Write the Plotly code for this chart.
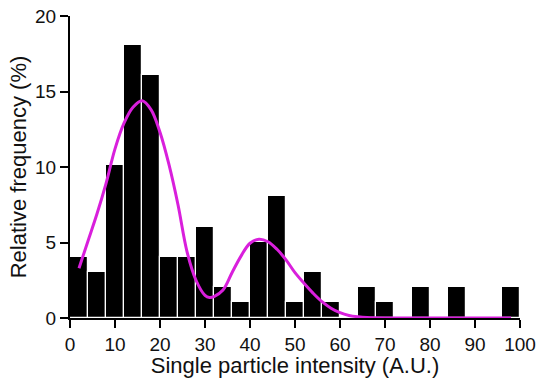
import plotly.graph_objects as go

# Histogram bins (A.U.) and relative frequencies (%)
bin_centers = [2, 6, 10, 14, 18, 22, 26, 30, 34, 38, 42, 46, 50,
               54, 58, 62, 66, 70, 74, 78, 82, 86, 90, 94, 98]
rel_freq = [4.05, 3.05, 10.1, 18.1, 16.1, 4.05, 4.05, 6.05, 2.05, 1.05,
            5.05, 8.05, 1.05, 3.05, 1.05, 0.0, 2.05, 1.05, 0.0, 2.05,
            0.0, 2.05, 0.0, 0.0, 2.05]
bin_width = 4

# Fitted curve
curve_x = [2, 4, 6, 8, 10, 12, 14, 16, 18, 20, 22, 24, 26, 28, 30, 31, 32,
           34, 36, 38, 40, 42, 44, 46, 48, 50, 52, 54, 56, 58, 60, 62, 64,
           66, 70, 80, 90, 98]
curve_y = [3.3, 5.1, 6.9, 8.9, 11.2, 12.9, 13.95, 14.38, 13.8, 12.3, 10.15,
           7.5, 4.4, 2.5, 1.5, 1.36, 1.42, 1.85, 3.0, 4.1, 4.95, 5.22, 5.05,
           4.55, 3.85, 3.0, 2.3, 1.65, 1.08, 0.65, 0.35, 0.17, 0.08, 0.03,
           0.0, 0.0, 0.0, 0.0]

x_ticks = [0, 10, 20, 30, 40, 50, 60, 70, 80, 90, 100]
y_ticks = [0, 5, 10, 15, 20]

fig = go.Figure()
fig.add_trace(go.Bar(
    x=bin_centers, y=rel_freq, width=bin_width,
    marker=dict(color="black", line=dict(color="white", width=1.2)),
    showlegend=False,
))
fig.add_trace(go.Scatter(
    x=curve_x, y=curve_y, mode="lines",
    line=dict(color="#d91fdc", width=3, shape="spline", smoothing=1.0),
    showlegend=False,
))

axis_common = dict(
    showline=True, linecolor="black", linewidth=2,
    ticks="outside", ticklen=8, tickwidth=2, tickcolor="black",
    showgrid=False, zeroline=False, automargin=False,
    tickfont=dict(family="Liberation Sans, Arial", size=19, color="#111111"),
)

fig.update_layout(
    width=539, height=378,
    margin=dict(l=70, r=19, t=16, b=60),
    paper_bgcolor="white", plot_bgcolor="white",
    bargap=0,
    font=dict(family="Liberation Sans, Arial", color="#111111"),
    xaxis=dict(range=[0, 100], tickvals=x_ticks,
               title=dict(text="Single particle intensity (A.U.)",
                          font=dict(size=22), standoff=6),
               **axis_common),
    yaxis=dict(range=[0, 20], tickvals=y_ticks,
               title=dict(text="Relative frequency (%)",
                          font=dict(size=22), standoff=2),
               **axis_common),
)

fig.write_html("out.html",
               config={"displayModeBar": False},
               post_script="document.body.style.margin='0';"
                           "document.body.style.padding='0';")
